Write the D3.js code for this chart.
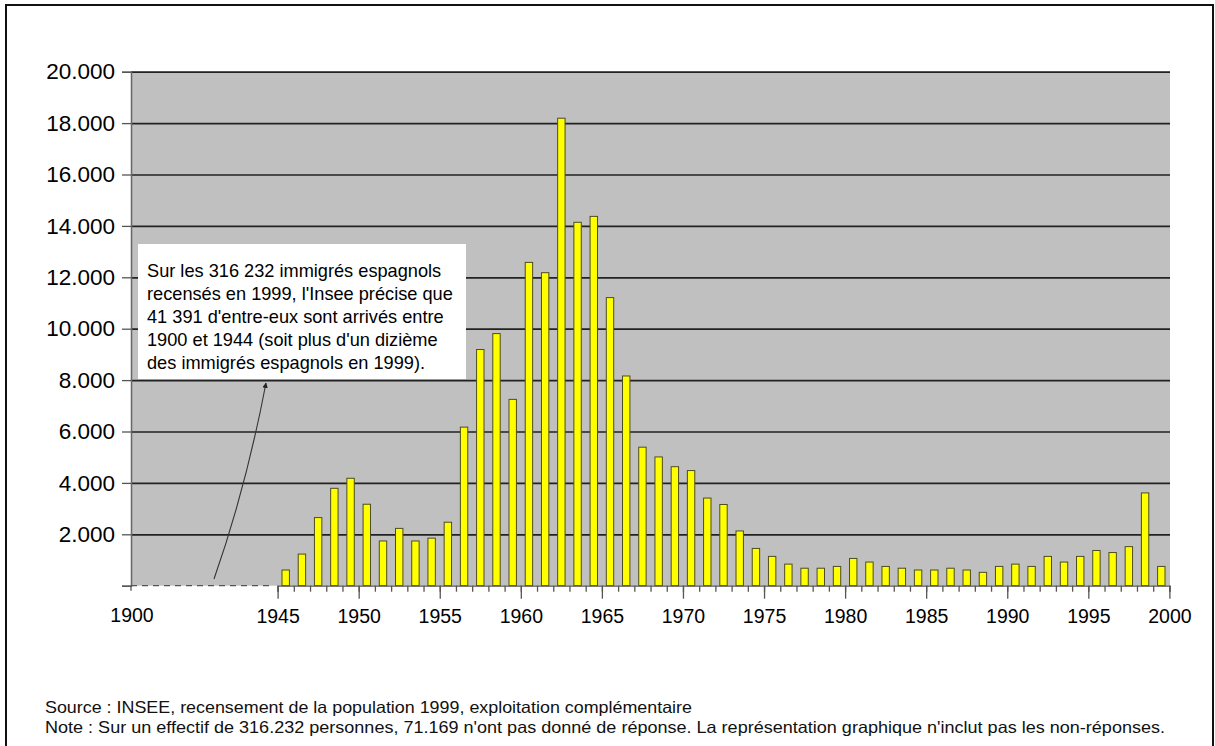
<!DOCTYPE html>
<html>
<head>
<meta charset="utf-8">
<script src="https://cdn.jsdelivr.net/npm/d3@7"></script>
<style>
  html, body { margin: 0; padding: 0; background: #fff; }
  svg { display: block; font-family: "Liberation Sans", Arial, sans-serif; }
</style>
</head>
<body>
<svg id="chart" width="1215" height="746"></svg>
<script>
// ---- data ----
const years = [1945,1946,1947,1948,1949,1950,1951,1952,1953,1954,
               1955,1956,1957,1958,1959,1960,1961,1962,1963,1964,
               1965,1966,1967,1968,1969,1970,1971,1972,1973,1974,
               1975,1976,1977,1978,1979,1980,1981,1982,1983,1984,
               1985,1986,1987,1988,1989,1990,1991,1992,1993,1994,
               1995,1996,1997,1998,1999];
const arrivals = [610,1230,2650,3790,4180,3170,1740,2230,1740,1850,
                  2470,6170,9190,9810,7250,12580,12180,18190,14140,14370,
                  11210,8160,5390,5010,4630,4480,3410,3160,2130,1450,
                  1140,840,680,680,750,1060,920,750,680,610,
                  610,680,610,520,750,840,750,1140,920,1140,
                  1370,1290,1520,3610,750];
const xMajorTicks = [1945,1950,1955,1960,1965,1970,1975,1980,1985,1990,1995,2000];
const xStartLabel = 1900;
const yTicks = [0,2000,4000,6000,8000,10000,12000,14000,16000,18000,20000];
const noteLines = [
  "Sur les 316 232 immigrés espagnols",
  "recensés en 1999, l'Insee précise que",
  "41 391 d'entre-eux sont arrivés entre",
  "1900 et 1944 (soit plus d'un dizième",
  "des immigrés espagnols en 1999)."
];
const sourceText = "Source : INSEE, recensement de la population 1999, exploitation complémentaire";
const footNote = "Note : Sur un effectif de 316.232 personnes, 71.169 n'ont pas donné de réponse. La représentation graphique n'inclut pas les non-réponses.";

// ---- layout ----
const svg = d3.select("#chart");
const plotLeft = 131, plotRight = 1170, plotTop = 71.7, plotBottom = 585.7;

const y = d3.scaleLinear().domain([0, 20000]).range([plotBottom, plotTop]);
const x = d3.scaleLinear().domain([1945, 2000]).range([277.6, 1169.4]);

// outer frame
svg.append("rect").attr("x", 6).attr("y", 5).attr("width", 1207).attr("height", 800)
  .attr("fill", "none").attr("stroke", "#111").attr("stroke-width", 2);

// plot background
svg.append("rect").attr("x", plotLeft).attr("y", plotTop)
  .attr("width", plotRight - plotLeft).attr("height", plotBottom - plotTop)
  .attr("fill", "#c0c0c0");

// gridlines
const fmt = d => d === 0 ? "" : d3.format(",")(d).replace(/,/g, ".");
const grid = svg.append("g").attr("transform", `translate(${plotLeft},0)`)
  .call(d3.axisLeft(y).tickValues(yTicks.filter(d => d > 0)).tickSize(-(plotRight - plotLeft)).tickFormat(""));
grid.select(".domain").remove();
grid.selectAll("line").attr("stroke", "#222").attr("stroke-width", 1.7);

// y axis
const yAxis = svg.append("g").attr("transform", `translate(${plotLeft},0)`)
  .call(d3.axisLeft(y).tickValues(yTicks).tickSize(9).tickPadding(7).tickFormat(fmt));
yAxis.select(".domain").attr("stroke", "#666").attr("stroke-width", 1.5);
yAxis.selectAll(".tick line").attr("stroke", "#555").attr("stroke-width", 1.3);
yAxis.selectAll("text").attr("font-size", 22.5).attr("fill", "#000")
  .attr("font-family", "'Liberation Sans', Arial, sans-serif");

// annotation box (over the gridlines)
svg.append("rect").attr("x", 138).attr("y", 244).attr("width", 328).attr("height", 135)
  .attr("fill", "#ffffff");
svg.append("g").selectAll("text").data(noteLines).join("text")
  .attr("x", 147).attr("y", (d, i) => 277 + i * 23)
  .attr("font-size", 18.2).attr("fill", "#000").text(d => d);

// bars
const barW = 7.4;
svg.append("g").selectAll("rect").data(years).join("rect")
  .attr("x", (d) => (x(d) + x(d + 1)) / 2 - barW / 2)
  .attr("y", (d, i) => y(arrivals[i]))
  .attr("width", barW)
  .attr("height", (d, i) => y(0) - y(arrivals[i]))
  .attr("fill", "#ffff00")
  .attr("stroke", "#4d4d1a")
  .attr("stroke-width", 1);

// x axis: dashed broken segment from 1900 to 1945
svg.append("line").attr("x1", plotLeft).attr("x2", x(1945) - 6)
  .attr("y1", plotBottom).attr("y2", plotBottom)
  .attr("stroke", "#555").attr("stroke-width", 1.3).attr("stroke-dasharray", "6,5");
svg.append("line").attr("x1", plotLeft).attr("x2", plotLeft)
  .attr("y1", plotBottom).attr("y2", plotBottom + 5)
  .attr("stroke", "#555").attr("stroke-width", 1.3);
svg.append("text").attr("x", plotLeft + 1).attr("y", 622)
  .attr("text-anchor", "middle").attr("font-size", 19.5).attr("fill", "#000")
  .text(xStartLabel);

// minor ticks (each year boundary)
const minor = svg.append("g").attr("transform", `translate(0,${plotBottom})`)
  .call(d3.axisBottom(x).tickValues(years.concat([2000])).tickSize(6).tickFormat(""));
minor.select(".domain").attr("stroke", "#555").attr("stroke-width", 1.3);
minor.selectAll(".tick line").attr("stroke", "#555").attr("stroke-width", 1.3);

// major ticks with labels
const major = svg.append("g").attr("transform", `translate(0,${plotBottom})`)
  .call(d3.axisBottom(x).tickValues(xMajorTicks).tickSize(13).tickPadding(10).tickFormat(d3.format("d")));
major.select(".domain").remove();
major.selectAll(".tick line").attr("stroke", "#555").attr("stroke-width", 1.3);
major.selectAll("text").attr("font-size", 19.5).attr("fill", "#000")
  .attr("font-family", "'Liberation Sans', Arial, sans-serif");

// arrow from the 1900-1944 segment to the note
const defs = svg.append("defs");
defs.append("marker").attr("id", "ah").attr("viewBox", "0 0 10 10")
  .attr("refX", 9).attr("refY", 5).attr("markerWidth", 5).attr("markerHeight", 5)
  .attr("orient", "auto-start-reverse")
  .append("path").attr("d", "M0,0 L10,5 L0,10 z").attr("fill", "#222");
const p = d3.path();
p.moveTo(214, 579);
p.quadraticCurveTo(246, 488, 266, 383);
svg.append("path").attr("d", p.toString()).attr("fill", "none")
  .attr("stroke", "#333").attr("stroke-width", 1.1).attr("marker-end", "url(#ah)");

// footer
svg.append("text").attr("x", 45).attr("y", 713).attr("font-size", 16.5).attr("fill", "#111")
  .attr("textLength", 647).attr("lengthAdjust", "spacingAndGlyphs").text(sourceText);
svg.append("text").attr("x", 45).attr("y", 733).attr("font-size", 16.5).attr("fill", "#111")
  .attr("textLength", 1120).attr("lengthAdjust", "spacingAndGlyphs").text(footNote);
</script>
</body>
</html>
